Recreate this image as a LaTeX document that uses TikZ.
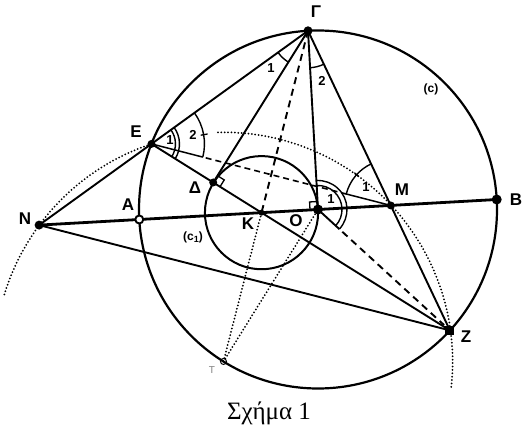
\documentclass[tikz,border=0pt]{standalone}
\usepackage{fontspec}
\setmainfont{Liberation Serif}
\newfontfamily\labfont{Liberation Sans}
\usetikzlibrary{calc,angles}
\begin{document}
\begin{tikzpicture}[x=1pt,y=1pt,
  solidl/.style={line width=1.9pt},
  thickl/.style={line width=2.8pt},
  dashl/.style={line width=1.9pt, dash pattern=on 7pt off 5pt},
  dashm/.style={line width=1.6pt, dash pattern=on 6pt off 4pt},
  dotl/.style={line width=2pt, line cap=round, dash pattern=on 0pt off 3.4pt},
  lab/.style={font=\labfont\bfseries\fontsize{17}{20}\selectfont, inner sep=0pt},
  num/.style={font=\labfont\bfseries\fontsize{13}{15}\selectfont, inner sep=0pt},
  clab/.style={font=\labfont\bfseries\fontsize{12}{14}\selectfont, inner sep=0pt},
  angarc/.style={draw, line width=1.4pt},
  rmark/.style={line width=1.3pt},
]
\useasboundingbox (0,0) rectangle (524,-435);
\def\R{179}
\coordinate (O) at (318,-209.5);
\coordinate (A) at ($(O)+(183.2:\R)$);
\coordinate (B) at ($(O)+(3.2:\R)$);
\coordinate (G) at ($(O)+(93.2:\R)$);
\coordinate (E) at ($(O)+(158.5:\R)$);
\coordinate (Z) at ($(O)+(-42.5:\R)$);
\coordinate (N) at (intersection of E--G and A--B);
\coordinate (K) at (intersection of E--Z and A--B);
\coordinate (M) at (intersection of G--Z and A--B);
\coordinate (D) at ($(E)!(G)!(Z)$);
\coordinate (P) at ($(G)!(O)!(K)$);
\coordinate (T) at ($2*(P)-(G)$);

% circles
\draw[line width=2.2pt] (O) circle[radius=\R];
\draw[line width=2pt] let \p1=($(O)-(K)$), \n1={veclen(\x1,\y1)} in (K) circle[radius=\n1];

% dotted circle centred at T
\draw[dotl] let \p1=($(E)-(T)$), \n1={veclen(\x1,\y1)} in
  ($(T)+(163:\n1)$) arc[start angle=163, end angle=108.3, radius=\n1];
\draw[dotl] let \p1=($(E)-(T)$), \n1={veclen(\x1,\y1)} in
  ($(T)+(91.4:\n1)$) arc[start angle=91.4, end angle=-6.5, radius=\n1];
\draw[dotl] (T) -- (K);
\draw[dotl] (T) -- (O);

% solid lines
\draw[thickl] (N) -- (B);
\draw[solidl] (N) -- (G);
\draw[solidl] (N) -- (Z);
\draw[solidl] (E) -- (Z);
\draw[solidl] (G) -- (D);
\draw[solidl] (G) -- (O);
\draw[solidl] (G) -- (Z);

% dashed lines
\draw[dashl] (G) -- (K);
\draw[solidl] (O) -- ($(O)!29pt!(Z)$);
\draw[dashl] ($(O)!33pt!(Z)$) -- ($(Z)!8pt!(O)$);
\draw[line width=1.5pt] (E) -- ($(E)!53pt!(M)$);
\draw[dashm] ($(E)!56pt!(M)$) -- ($(M)!46pt!(E)$);
\draw[line width=1.5pt] ($(M)!46pt!(E)$) -- (M);

% angle marks
\pic[angarc, angle radius=24pt] {angle=Z--E--G};
\pic[angarc, angle radius=28pt] {angle=Z--E--G};
\pic[angarc, angle radius=53pt] {angle=M--E--G};
\pic[angarc, angle radius=37pt] {angle=E--G--D};
\pic[angarc, angle radius=37pt] {angle=O--G--M};
\pic[angarc, angle radius=24pt] {angle=Z--O--G};
\pic[angarc, angle radius=29pt] {angle=Z--O--G};
\pic[angarc, angle radius=46pt] {angle=G--M--E};
\draw[line width=1.3pt] ($(E)+(10:50)$) -- ($(E)+(10:57)$);
\draw[line width=1.3pt] ($(M)+(138:43)$) -- ($(M)+(138:49)$);

% right-angle marks
\draw[rmark] ($(D)!8pt!(G)$) -- ($(D)!8pt!(G)+(D)!8pt!(Z)-(D)$) -- ($(D)!8pt!(Z)$);
\draw[rmark] ($(O)!8pt!(G)$) -- ($(O)!8pt!(G)+(O)!8pt!(A)-(O)$) -- ($(O)!8pt!(A)$);

% points
\fill (G) circle[radius=4.5];
\fill (E) circle[radius=4];
\fill (N) circle[radius=4.5];
\fill (D) circle[radius=4];
\fill (K) circle[radius=3];
\fill (O) circle[radius=5];
\fill (M) circle[radius=4];
\fill (B) circle[radius=5];
\fill ($(Z)+(-4.5,-4.5)$) rectangle ++(9,9);
\filldraw[fill=white, line width=1.9pt] (A) circle[radius=4];
\draw[line width=1pt] (T) circle[radius=3];

% labels
\node[lab] (lG) at (316,-12) {Γ};
\node[lab] (lE) at (136,-132) {E};
\node[lab] (lN) at (25,-219) {N};
\node[lab] (lA) at (128,-205) {A};
\node[lab] (lD) at (195,-188) {Δ};
\node[lab] (lK) at (248,-224) {K};
\node[lab] (lO) at (296,-221) {O};
\node[lab] (lM) at (402,-190) {M};
\node[lab] (lB) at (516,-200) {B};
\node[lab] (lZ) at (466,-337) {Z};
\node[font=\labfont\fontsize{10}{12}\selectfont, text=gray, inner sep=0pt] (lT) at (212,-370) {Τ};
\node[clab] (lc) at (431,-89) {(c)};
\node[clab] (lc1) at (193,-237) {(c\raisebox{-0.35ex}{\fontsize{9}{9}\selectfont 1})};

\node[num] (n1) at (170,-140) {1};
\node[num] (n2) at (193,-135) {2};
\node[num] (n3) at (271,-68) {1};
\node[num] (n4) at (322,-81) {2};
\node[num] (n5) at (331,-199) {1};
\node[num] (n6) at (366,-187) {1};

\node[font=\fontsize{25}{29}\selectfont, inner sep=0pt] (cap) at (269,-413) {Σχήμα 1};
\end{tikzpicture}
\end{document}
